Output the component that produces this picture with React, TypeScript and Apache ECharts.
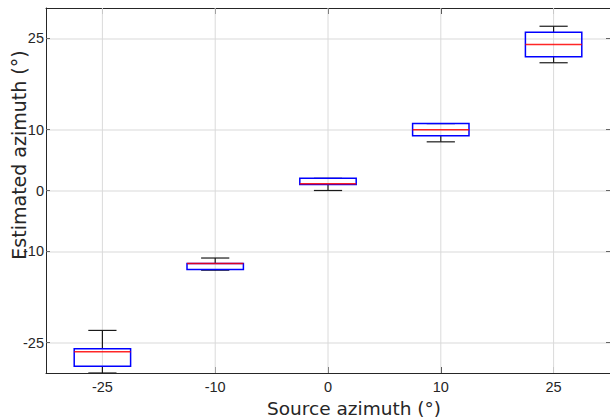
import React, { useEffect, useRef } from 'react';
import * as echarts from 'echarts';

const categories = ['-25', '-10', '0', '10', '25'];
const lowWhisker = [-30, -13.1, 0, 8.0, 21.0];
const q1 = [-28.9, -13.0, 1.0, 9.0, 22.0];
const median = [-26.5, -12.0, 1.1, 10.0, 24.0];
const q3 = [-26.0, -12.0, 2.0, 11.0, 26.0];
const highWhisker = [-23.0, -11.1, 2.0, 11.0, 27.0];
const yTicks = [-25, -10, 0, 10, 25];

const FONT = 'DejaVu Sans';
const TICK_FONT = 'Liberation Sans';
const AXIS_COLOR = '#262626';

export default function App() {
  const ref = useRef<HTMLDivElement>(null);
  useEffect(() => {
    if (!ref.current) return;
    const chart = echarts.init(ref.current, undefined, { renderer: 'svg' });
    const data = categories.map((_, i) => [i, lowWhisker[i], q1[i], median[i], q3[i], highWhisker[i]]);
    const option: any = {
      animation: false,
      backgroundColor: '#ffffff',
      grid: { left: 46, right: 0, top: 8, bottom: 46, containLabel: false },
      xAxis: [
        {
          type: 'category',
          data: categories,
          position: 'bottom',
          axisLine: { show: true, onZero: false, lineStyle: { color: AXIS_COLOR, width: 1 } },
          axisTick: { show: true, inside: true, alignWithLabel: true, length: 6, lineStyle: { color: AXIS_COLOR } },
          axisLabel: { show: true, fontFamily: TICK_FONT, fontSize: 14.5, color: AXIS_COLOR, margin: 6 },
          splitLine: { show: false },
        },
        {
          type: 'category',
          data: categories,
          position: 'top',
          axisLine: { show: true, onZero: false, lineStyle: { color: AXIS_COLOR, width: 1 } },
          axisTick: { show: true, inside: true, alignWithLabel: true, length: 6, lineStyle: { color: AXIS_COLOR } },
          axisLabel: { show: false },
          splitLine: { show: false },
        },
      ],
      yAxis: [
        {
          type: 'value',
          min: -30,
          max: 30,
          position: 'left',
          axisLine: { show: true, onZero: false, lineStyle: { color: AXIS_COLOR, width: 1 } },
          axisTick: { show: true, inside: true, length: 4, customValues: yTicks, lineStyle: { color: '#666' } },
          axisLabel: { show: true, customValues: yTicks, fontFamily: TICK_FONT, fontSize: 14.5, color: AXIS_COLOR, margin: 2 },
          splitLine: { show: true, lineStyle: { color: '#e6e6e6', width: 1.5 } },
        },
        {
          type: 'value',
          min: -30,
          max: 30,
          position: 'right',
          axisLine: { show: false, onZero: false },
          axisTick: { show: true, inside: true, length: 4, customValues: yTicks, lineStyle: { color: '#666' } },
          axisLabel: { show: false, customValues: yTicks },
          splitLine: { show: false },
        },
      ],
      graphic: [
        {
          type: 'text',
          x: 19,
          y: 155,
          rotation: Math.PI / 2,
          style: {
            text: 'Estimated azimuth (°)',
            fontFamily: FONT,
            fontSize: 19,
            fill: AXIS_COLOR,
            align: 'center',
            verticalAlign: 'middle',
          },
        },
        {
          type: 'text',
          x: 354,
          y: 408,
          style: {
            text: 'Source azimuth (°)',
            fontFamily: FONT,
            fontSize: 18.5,
            fill: AXIS_COLOR,
            align: 'center',
            verticalAlign: 'middle',
          },
        },
      ],
      series: [
        {
          type: 'custom',
          xAxisIndex: 0,
          yAxisIndex: 0,
          clip: true,
          encode: { x: 0, y: [1, 2, 3, 4, 5] },
          data,
          renderItem: (params: any, api: any) => {
            const i = api.value(0);
            const band = api.size([1, 0])[0];
            const half = band * 0.25;
            const capHalf = band * 0.125;
            const pLow = api.coord([i, api.value(1)]);
            const pQ1 = api.coord([i, api.value(2)]);
            const pMed = api.coord([i, api.value(3)]);
            const pQ3 = api.coord([i, api.value(4)]);
            const pHigh = api.coord([i, api.value(5)]);
            const cx = pLow[0];
            const cs = params.coordSys;
            const black = { stroke: '#1a1a1a', lineWidth: 1.2 };
            return {
              type: 'group',
              children: [
                { type: 'line', shape: { x1: cx, y1: cs.y, x2: cx, y2: cs.y + cs.height }, style: { stroke: '#dadada', lineWidth: 1 } },
                { type: 'line', shape: { x1: cx, y1: pLow[1], x2: cx, y2: pQ1[1] }, style: black },
                { type: 'line', shape: { x1: cx, y1: pQ3[1], x2: cx, y2: pHigh[1] }, style: black },
                { type: 'line', shape: { x1: cx - capHalf, y1: pLow[1], x2: cx + capHalf, y2: pLow[1] }, style: black },
                { type: 'line', shape: { x1: cx - capHalf, y1: pHigh[1], x2: cx + capHalf, y2: pHigh[1] }, style: black },
                {
                  type: 'rect',
                  shape: { x: cx - half, y: pQ3[1], width: half * 2, height: pQ1[1] - pQ3[1] },
                  style: { fill: 'none', stroke: '#0000ff', lineWidth: 1.5 },
                },
                { type: 'line', shape: { x1: cx - half, y1: pMed[1], x2: cx + half, y2: pMed[1] }, style: { stroke: '#ff0000', lineWidth: 1.5, opacity: 0.85 } },
              ],
            };
          },
        },
      ],
    };
    chart.setOption(option);
    return () => chart.dispose();
  }, []);
  return <div ref={ref} style={{ position: 'absolute', left: 0, top: 0, width: 610, height: 419 }} />;
}
